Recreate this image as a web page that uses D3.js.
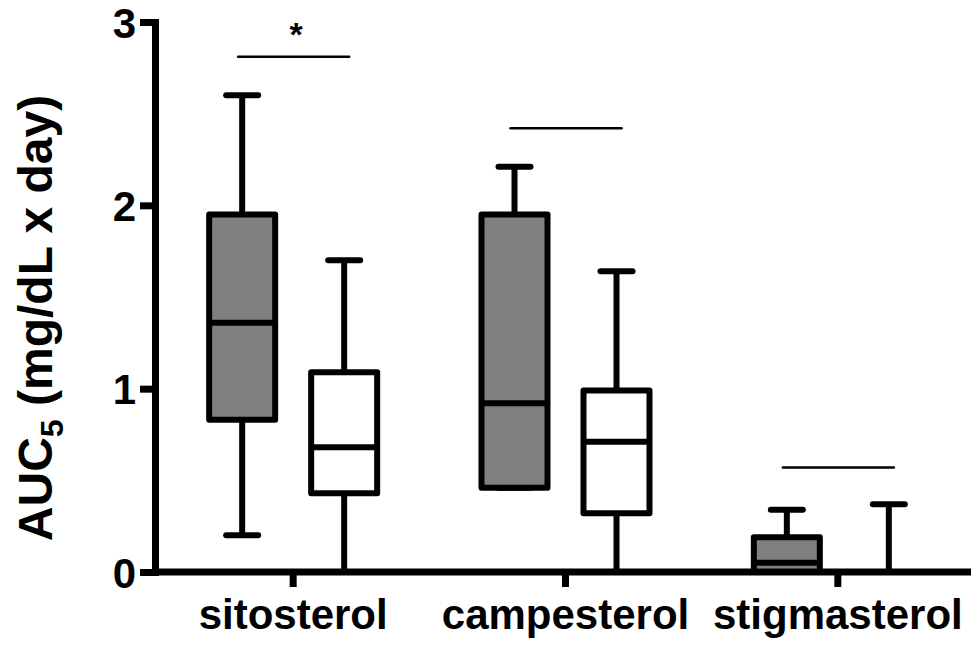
<!DOCTYPE html>
<html>
<head>
<meta charset="utf-8">
<script src="https://cdn.jsdelivr.net/npm/d3@7"></script>
<style>
  body { margin: 0; background: #fff; }
  svg text { font-family: "Liberation Sans", Arial, sans-serif; font-weight: bold; }
</style>
</head>
<body>
<svg id="chart" width="971" height="646"></svg>
<script>
// categories and groups
var categories = ["sitosterol", "campesterol", "stigmasterol"];
var groups = ["grey", "white"];
var yTicks = [0, 1, 2, 3];

// box stats per category: [min, q1, median, q3, max]
var greyBoxes = [
    [0.20, 0.83, 1.36, 1.95, 2.60],
    [0.46, 0.46, 0.92, 1.95, 2.21],
    [0.00, 0.00, 0.05, 0.19, 0.34]
];
var whiteBoxes = [
    [0.00, 0.43, 0.68, 1.09, 1.70],
    [0.00, 0.32, 0.71, 0.99, 1.64],
    [0.00, 0.00, 0.00, 0.00, 0.37]
];

// comparison bars above each pair
var sigLevels = [2.81, 2.42, 0.57];
var sigLabels = ["*", "", ""];

var svg = d3.select("#chart");

var margin = {top: 22, right: 0, bottom: 74, left: 155},
    width = 971 - margin.left - margin.right,
    height = 646 - margin.top - margin.bottom;

var g = svg.append("g")
    .attr("transform", "translate(" + margin.left + "," + margin.top + ")");

// scales
var x = d3.scaleBand()
    .domain(categories)
    .range([2, width + 3])
    .padding(0);

var xInner = d3.scalePoint()
    .domain(groups)
    .range([-51, 51]);

var y = d3.scaleLinear()
    .domain([0, 3])
    .range([height, 0]);

var boxW = 66;
var capW = 38;

function center(cat) { return x(cat) + x.bandwidth() / 2; }

// build rows for drawing
var rows = [];
categories.forEach(function(c, i) {
    rows.push({cat: c, grp: "grey", s: greyBoxes[i]});
    rows.push({cat: c, grp: "white", s: whiteBoxes[i]});
});

var box = g.selectAll("g.box")
    .data(rows)
    .enter()
    .append("g")
    .attr("class", "box")
    .attr("transform", function(d) {
        return "translate(" + (center(d.cat) + xInner(d.grp)) + ",0)";
    });

// whiskers
box.append("line")
    .attr("x1", 0).attr("x2", 0)
    .attr("y1", function(d) { return y(d.s[4]); })
    .attr("y2", function(d) { return y(d.s[0]); })
    .attr("stroke", "#000")
    .attr("stroke-width", 6);

// caps
box.selectAll("line.cap")
    .data(function(d) { return [d.s[0], d.s[4]]; })
    .enter()
    .append("line")
    .attr("class", "cap")
    .attr("x1", -capW / 2 + 3).attr("x2", capW / 2 - 3)
    .attr("y1", function(v) { return y(v); })
    .attr("y2", function(v) { return y(v); })
    .attr("stroke", "#000")
    .attr("stroke-width", 6)
    .attr("stroke-linecap", "round")
    .attr("display", function(v) { return v === 0 ? "none" : null; });

// boxes
box.append("rect")
    .attr("x", -boxW / 2)
    .attr("width", boxW)
    .attr("y", function(d) { return y(d.s[3]); })
    .attr("height", function(d) { return y(d.s[1]) - y(d.s[3]); })
    .attr("fill", function(d) { return d.grp === "grey" ? "#808080" : "#fff"; })
    .attr("stroke", "#000")
    .attr("stroke-width", 6)
    .attr("stroke-linejoin", "round")
    .attr("display", function(d) { return d.s[3] === d.s[1] ? "none" : null; });

// medians
box.append("line")
    .attr("x1", -boxW / 2).attr("x2", boxW / 2)
    .attr("y1", function(d) { return y(d.s[2]); })
    .attr("y2", function(d) { return y(d.s[2]); })
    .attr("stroke", "#000")
    .attr("stroke-width", 6)
    .attr("display", function(d) { return d.s[3] === d.s[1] ? "none" : null; });

// comparison bars
var sig = g.selectAll("g.sig")
    .data(categories)
    .enter()
    .append("g")
    .attr("class", "sig");

sig.append("line")
    .attr("x1", function(c) { return center(c) - 55; })
    .attr("x2", function(c) { return center(c) + 56; })
    .attr("y1", function(c, i) { return y(sigLevels[i]); })
    .attr("y2", function(c, i) { return y(sigLevels[i]); })
    .attr("stroke", "#000")
    .attr("stroke-width", 2.5)
    .attr("stroke-linecap", "round");

sig.append("text")
    .attr("x", function(c) { return center(c) + 3; })
    .attr("y", function(c, i) { return y(sigLevels[i]) - 11; })
    .attr("text-anchor", "middle")
    .style("font-size", "34px")
    .text(function(c, i) { return sigLabels[i]; });

// x axis
var xAxis = g.append("g")
    .attr("transform", "translate(0," + height + ")")
    .call(d3.axisBottom(x).tickSize(15).tickPadding(12));
xAxis.select(".domain")
    .attr("d", "M0,0H" + (width + 10))
    .attr("stroke-width", 7);
xAxis.selectAll(".tick line").attr("stroke-width", 7);
xAxis.selectAll(".tick text")
    .style("font-size", "42px")
    .attr("fill", "#000");

// y axis
var yAxis = g.append("g")
    .call(d3.axisLeft(y).tickValues(yTicks).tickFormat(d3.format("d"))
        .tickSize(15).tickSizeOuter(0).tickPadding(4));
yAxis.select(".domain").attr("stroke-width", 7).attr("stroke-linecap", "square");
yAxis.selectAll(".tick line").attr("stroke-width", 7);
yAxis.selectAll(".tick text")
    .style("font-size", "42px")
    .attr("dy", "0.36em")
    .attr("fill", "#000");

// y label
var yl = svg.append("text")
    .attr("transform", "translate(52," + 318 + ") rotate(-90)")
    .attr("text-anchor", "middle")
    .style("font-size", "48px");
yl.append("tspan").text("AUC");
yl.append("tspan").attr("dy", 11).style("font-size", "32px").text("5");
yl.append("tspan").attr("dy", -11).text(" (mg/dL x day)");
</script>
</body>
</html>
